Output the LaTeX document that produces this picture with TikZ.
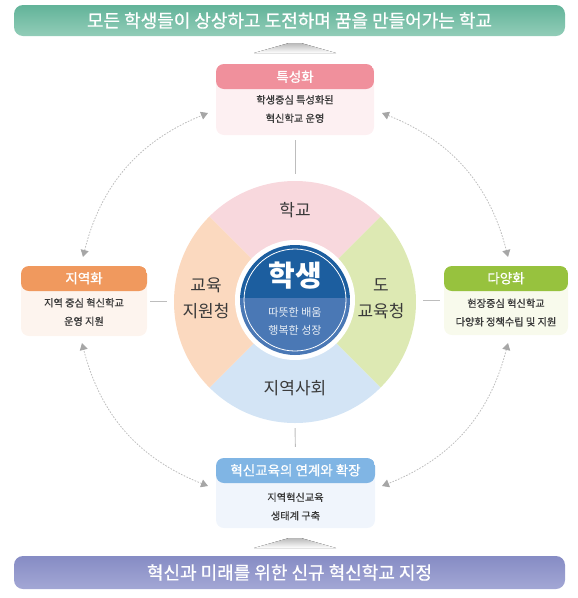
\documentclass[tikz,border=0pt]{standalone}
\usepackage{fontspec}
\setmainfont{Noto Sans CJK KR}
\newfontfamily\krmid{Noto Sans CJK KR}[FakeBold=0.8]
\usetikzlibrary{positioning,arrows.meta}

\definecolor{tealtop}{HTML}{62B399}
\definecolor{tealbot}{HTML}{92CDB8}
\definecolor{violettop}{HTML}{868CC4}
\definecolor{violetbot}{HTML}{A3A7D5}
\definecolor{pinkhd}{HTML}{F0909C}
\definecolor{pinkbd}{HTML}{FDF0F2}
\definecolor{orangehd}{HTML}{F0995E}
\definecolor{orangebd}{HTML}{FDF4EE}
\definecolor{greenhd}{HTML}{97C23E}
\definecolor{greenbd}{HTML}{F8FAEC}
\definecolor{bluehd}{HTML}{80B5E4}
\definecolor{bluebd}{HTML}{F0F5FC}
\definecolor{secschool}{HTML}{F8D8DD}
\definecolor{secoffice}{HTML}{DDE9B3}
\definecolor{secregion}{HTML}{D3E4F5}
\definecolor{secdistrict}{HTML}{FBD9BF}
\definecolor{coredark}{HTML}{1C5E9F}
\definecolor{corelight}{HTML}{4A78B5}
\definecolor{txtgray}{HTML}{3A3A3A}
\definecolor{linkgray}{HTML}{BDBDBD}
\definecolor{tipgray}{HTML}{A6A6A6}

\begin{document}
\begin{tikzpicture}[%
            x=1pt,
            y=-1pt,
            banner/.style={%
            	rounded corners=9pt,
            	minimum width=551pt,
            	text=white,
            	font=\krmid\fontsize{18}{20}\selectfont
            },
            infobox/.style={%
            	rounded corners=8pt,
            	inner sep=0pt,
            	path picture={\fill[#1] (path picture bounding box.north west) rectangle ([yshift=-25pt]path picture bounding box.north east);}
            },
            boxtitle/.style={%
            	text=white,
            	font=\krmid\fontsize{13.5}{15}\selectfont
            },
            boxtext/.style={%
            	text=txtgray,
            	align=center,
            	font=\krmid\fontsize{10.2}{18.5}\selectfont
            },
            sector/.style={%
            	text=txtgray,
            	align=center,
            	font=\fontsize{17}{26}\selectfont
            },
            link/.style={%
            	draw=linkgray,
            	line width=0.9pt
            },
            loop/.style={%
            	draw=linkgray,
            	line width=0.8pt,
            	dash pattern=on 1.6pt off 1.4pt,
            	{Triangle[length=7pt,width=8pt,color=tipgray]}-{Triangle[length=7pt,width=8pt,color=tipgray]}
            },
            wedge/.style={%
            	top color=gray!55,
            	bottom color=white
            }
            ]
            \useasboundingbox (0,0) rectangle (578,598);

            % banners
            \node[banner, minimum height=31pt, top color=tealtop, bottom color=tealbot] (goal) at (289.5,20.5)
            	{모든 학생들이 상상하고 도전하며 꿈을 만들어가는 학교};
            \node[banner, minimum height=33pt, top color=violettop, bottom color=violetbot] (start) at (289.5,572.5)
            	{혁신과 미래를 위한 신규 혁신학교 지정};
            \fill[wedge] (289,43) -- (301,43) -- (336,53) -- (254,53) -- cycle;
            \fill[wedge] (289,538) -- (301,538) -- (336,548) -- (254,548) -- cycle;

            % wheel
            \node[circle, minimum size=242pt, inner sep=0pt] (wheel) at (295,302) {};
            \begin{scope}
            	\clip (wheel.center) circle[radius=121pt];
            	\fill[secschool] (wheel.center) -- ++(-140,-140) -- ++(280,0) -- cycle;
            	\fill[secoffice] (wheel.center) -- ++(140,-140) -- ++(0,280) -- cycle;
            	\fill[secregion] (wheel.center) -- ++(140,140) -- ++(-280,0) -- cycle;
            	\fill[secdistrict] (wheel.center) -- ++(-140,140) -- ++(0,-280) -- cycle;
            \end{scope}
            \node[circle, fill=white, minimum size=120pt, inner sep=0pt] (core) at (295,300) {};
            \begin{scope}
            	\clip (core.center) circle[radius=55pt];
            	\fill[coredark] (240,240) rectangle (350,298);
            	\fill[corelight] (240,298) rectangle (350,360);
            \end{scope}
            \draw[white, line width=0.8pt] (core.center) circle[radius=51pt];

            \node[sector] (school) at (295,210) {학교};
            \node[sector] (office) at (381,298.5) {도\\교육청};
            \node[sector] (region) at (295,388) {지역사회};
            \node[sector] (district) at (206,298.5) {교육\\지원청};
            \node[text=white, font=\bfseries\fontsize{29}{32}\selectfont] (pupil) at (295,276) {학생};
            \node[text=white!88!corelight, align=center, font=\fontsize{11}{18}\selectfont] (motto) at (295,321)
            	{따뜻한 배움\\행복한 성장};

            % boxes
            \node[infobox=pinkhd, fill=pinkbd, minimum width=158pt, minimum height=71pt] (spec) at (295,99.5) {};
            \node[boxtitle] at ([yshift=-13pt]spec.north) {특성화};
            \node[boxtext] at (295,109) {학생중심 특성화된\\혁신학교 운영};

            \node[infobox=orangehd, fill=orangebd, minimum width=126pt, minimum height=70pt] (local) at (84,301) {};
            \node[boxtitle] at ([yshift=-12.5pt]local.north) {지역화};
            \node[boxtext] at (84,312) {지역 중심 혁신학교\\운영 지원};

            \node[infobox=greenhd, fill=greenbd, minimum width=124pt, minimum height=69pt] (diverse) at (506,300.5) {};
            \node[boxtitle] at ([yshift=-12.5pt]diverse.north) {다양화};
            \node[boxtext] at (506,312.5) {현장중심 혁신학교\\다양화 정책수립 및 지원};

            \node[infobox=bluehd, fill=bluebd, minimum width=159pt, minimum height=70pt] (expand) at (295.5,493) {};
            \node[boxtitle] at ([yshift=-12.5pt]expand.north) {혁신교육의 연계와 확장};
            \node[boxtext] at (295.5,506.5) {지역혁신교육\\생태계 구축};

            % short links
            \draw[link, shorten <=5pt, shorten >=7pt] (spec.south) -- (wheel.north);
            \draw[link, shorten <=3pt, shorten >=7pt] (local.east) -- (local.east -| wheel.west);
            \draw[link, shorten <=7pt, shorten >=4pt] (diverse.west -| wheel.east) -- (diverse.west);
            \draw[link, shorten <=5pt, shorten >=11pt] (wheel.south) -- (expand.north);

            % dotted loops
            \coordinate (tlA) at (83,257);
            \coordinate (tlB) at (208,113);
            \coordinate (trA) at (382,113);
            \coordinate (trB) at (508,257);
            \coordinate (brA) at (508,343);
            \coordinate (brB) at (382,486);
            \coordinate (blA) at (208,486);
            \coordinate (blB) at (82,343);
            \draw[loop] (tlA) to[bend left=27] (tlB);
            \draw[loop] (trA) to[bend left=27] (trB);
            \draw[loop] (brA) to[bend left=27] (brB);
            \draw[loop] (blA) to[bend left=27] (blB);
\end{tikzpicture}
\end{document}
